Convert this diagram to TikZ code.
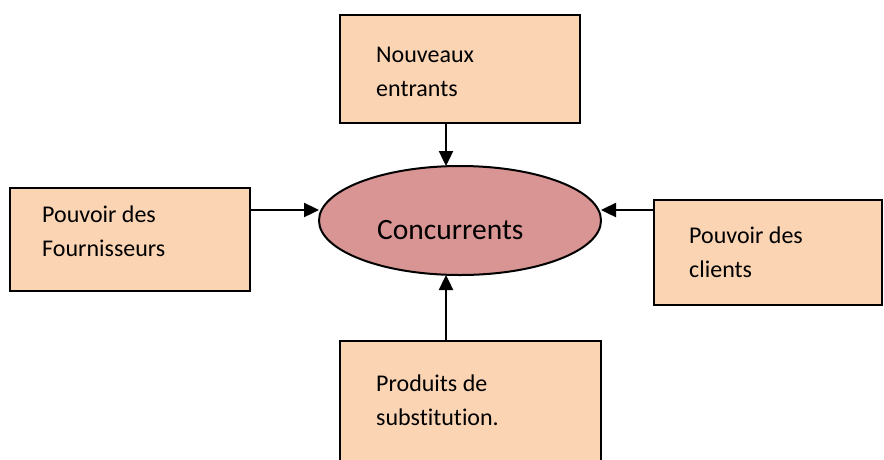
\documentclass[tikz,border=0pt]{standalone}
\usepackage{fontspec}
\setmainfont[Ligatures=NoCommon]{Carlito}
\usetikzlibrary{arrows.meta,shapes.geometric}
\definecolor{peach}{HTML}{FBD4B4}
\definecolor{rose}{HTML}{D99594}
\begin{document}
\begin{tikzpicture}[x=1pt,y=-1pt,
 box/.style={draw=black,line width=2pt,fill=peach,rectangle,inner sep=0pt,outer sep=0pt,anchor=north west},
 lbl/.style={anchor=base west,inner sep=0pt,font=\fontsize{24}{34}\selectfont,align=left},
 arr/.style={line width=2.4pt,-{Triangle[length=15pt,width=14pt]}}]
\clip (0,0) rectangle (884,459);
\fill[white] (0,0) rectangle (884,459);
\node[box,minimum width=240pt,minimum height=108pt] (top) at (340,15) {};
\node[box,minimum width=240pt,minimum height=103pt] (left) at (10,188) {};
\node[box,minimum width=228pt,minimum height=105pt] (right) at (654,200) {};
\node[box,minimum width=261pt,minimum height=140pt] (bot) at (340,341) {};
\node[draw=black,line width=2pt,fill=rose,ellipse,inner sep=0pt,outer sep=0pt,minimum width=282pt,minimum height=109pt] (conc) at (460,220.5) {};
\node[lbl] (ttop) at (376,96) {Nouveaux\\entrants};
\node[lbl] (tleft) at (42,256) {Pouvoir des\\Fournisseurs};
\node[lbl] (tright) at (689,277) {Pouvoir des\\clients};
\node[lbl] (tbot) at (376,425) {Produits de\\substitution.};
\node[anchor=base west,inner sep=0pt,font=\fontsize{29.5}{34}\selectfont] (tconc) at (377,239) {Concurrents};
\draw[arr] ([xshift=-14pt]top.south) -- ([xshift=-14pt]conc.north);
\draw[arr] ([yshift=29.5pt]left.east) -- ([yshift=10.5pt]conc.west);
\draw[arr] ([yshift=42.5pt]right.west) -- ([yshift=10.5pt]conc.east);
\draw[arr] ([xshift=-24.5pt]bot.north) -- ([xshift=-14pt]conc.south);
\end{tikzpicture}
\end{document}
